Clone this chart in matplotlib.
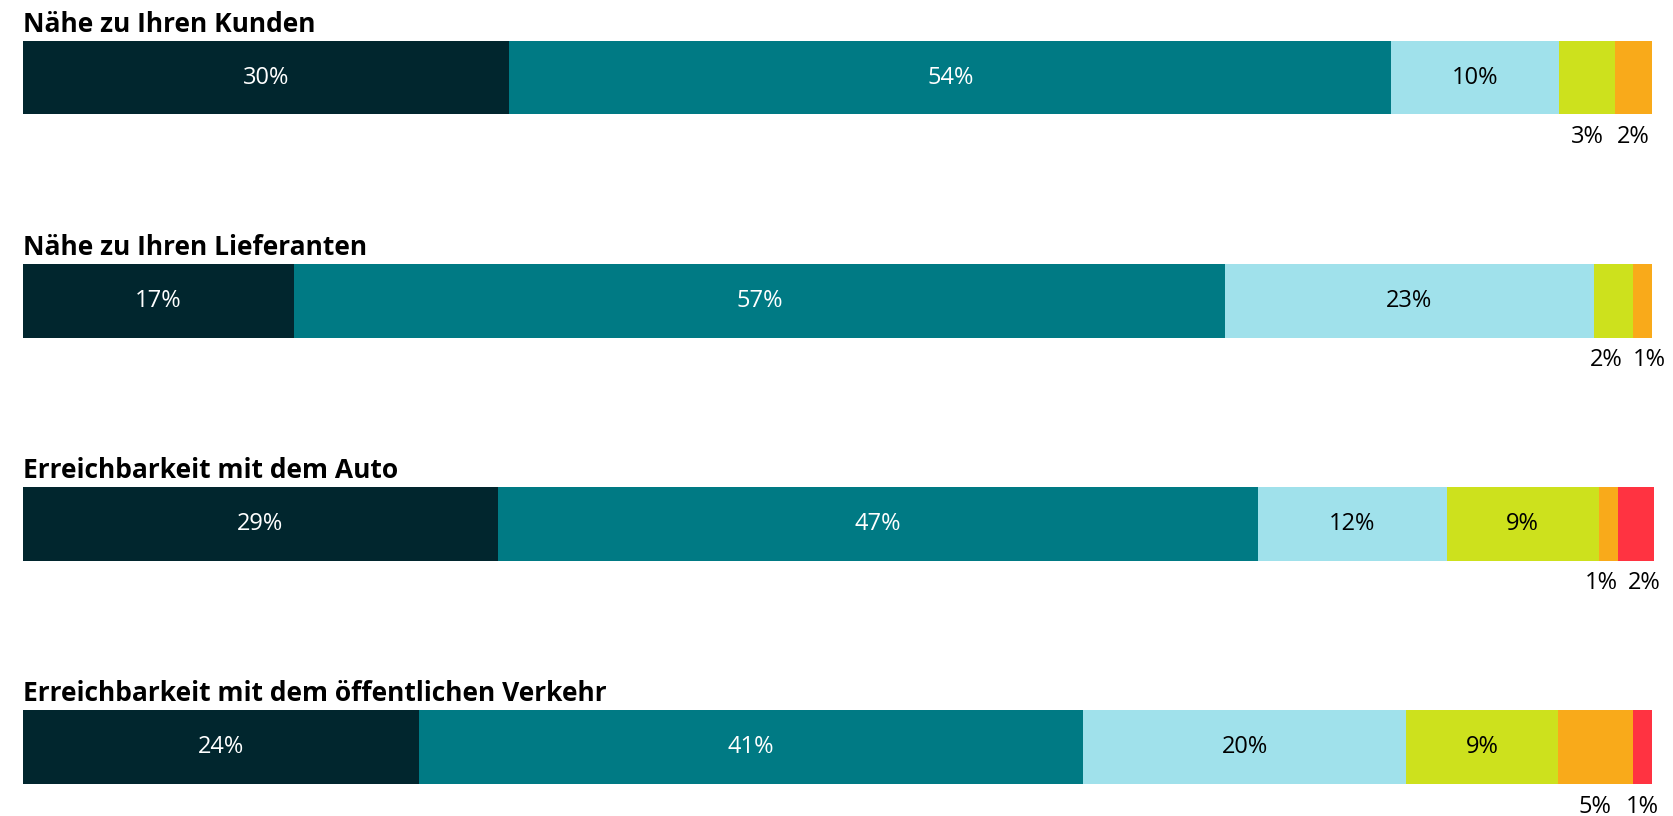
#!/usr/bin/env python3
"""Stacked 100% bars: Standortfaktoren."""

import matplotlib.pyplot as plt
import numpy as np

plt.rcParams['font.family'] = ['Open Sans', 'DejaVu Sans']

# Data (shares in %)
titles = [
    "Nähe zu Ihren Kunden",
    "Nähe zu Ihren Lieferanten",
    "Erreichbarkeit mit dem Auto",
    "Erreichbarkeit mit dem öffentlichen Verkehr",
]
values = [
    [29.8, 54.1, 10.3, 3.4, 2.3, 0.0],
    [16.6, 57.1, 22.6, 2.4, 1.2, 0.0],
    [29.1, 46.6, 11.6, 9.3, 1.2, 2.3],
    [24.3, 40.7, 19.8, 9.3, 4.6, 1.2],
]

COLORS = ['#01262e', '#007a84', '#a0e1eb', '#cde11d', '#f9aa1a', '#ff3341']
TEXT_COLORS = ['white', 'white', 'black', 'black', 'black', 'black']
INSIDE_MIN = 8.0     # segments smaller than this get their label below the bar
MIN_GAP = 2.6        # min distance between labels below the bar

fig = plt.figure(figsize=(16.73, 8.16), dpi=100)
ax = fig.add_axes([23 / 1673, 0, (1654 - 23) / 1673, 1])
ax.set_xlim(0, 100)
ax.set_ylim(3.309, -0.348)
ax.axis('off')

bar_h = 0.33
for row, (title, vals) in enumerate(zip(titles, values)):
    vals = np.array(vals)
    left = np.concatenate([[0], np.cumsum(vals)[:-1]])
    ax.barh(row, vals, left=left, height=bar_h, color=COLORS, linewidth=0)
    ax.text(0, row - 0.205, title, fontsize=19, fontweight='bold',
            va='baseline', ha='left')

    outside = []
    for i, (v, l) in enumerate(zip(vals, left)):
        if v <= 0:
            continue
        c = l + v / 2
        if v >= INSIDE_MIN:
            ax.text(c, row, f'{round(v):.0f}%', ha='center', va='center',
                    fontsize=17, color=TEXT_COLORS[i])
        else:
            outside.append([c, v])

    # spread the small labels apart symmetrically
    for j in range(1, len(outside)):
        a, b = outside[j - 1], outside[j]
        if b[0] - a[0] < MIN_GAP:
            mid = (a[0] + b[0]) / 2
            a[0], b[0] = mid - MIN_GAP / 2, mid + MIN_GAP / 2
    for c, v in outside:
        ax.text(c, row + 0.267, f'{round(v):.0f}%', ha='center', va='center',
                fontsize=17, color='black')

fig.savefig('out.png', dpi=100)
